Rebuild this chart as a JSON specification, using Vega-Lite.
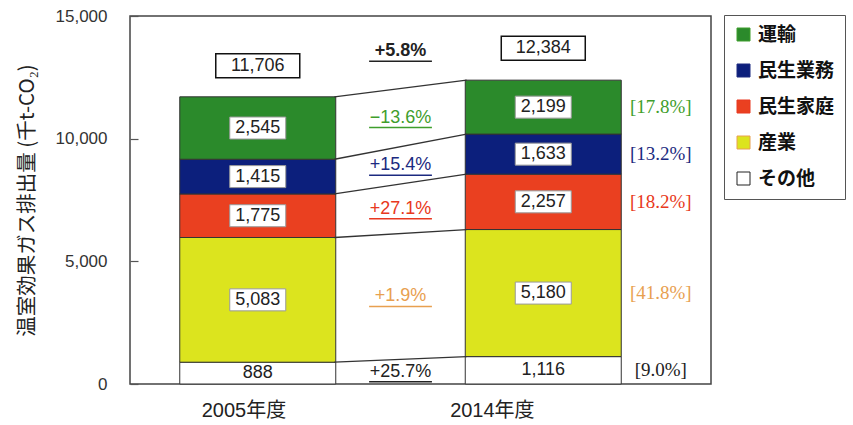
{
  "$schema": "https://vega.github.io/schema/vega-lite/v6.json",
  "width": 581,
  "height": 368,
  "autosize": {"type": "none"},
  "padding": {"left": 130, "top": 16, "right": 142, "bottom": 41},
  "background": "white",
  "config": {
    "view": {"stroke": "#444", "strokeWidth": 1.5},
    "font": "Liberation Sans, Noto Sans CJK JP",
    "axisY": {
      "labelFontSize": 17, "labelColor": "#333", "labelPadding": 31,
      "labelFont": "Liberation Sans",
      "labelExpr": "format(datum.value, ',')",
      "ticks": true, "tickSize": -8, "tickColor": "#555", "tickWidth": 1.2,
      "domain": false, "grid": false,
      "titleFontSize": 20.5, "titleFont": "Noto Sans CJK JP",
      "titleFontWeight": "normal", "titleColor": "#222", "titlePadding": 18
    },
    "axisX": {
      "ticks": false, "domain": false, "grid": false,
      "labelFontSize": 20, "labelColor": "#222", "labelPadding": 16,
      "labelFont": "Liberation Sans, Noto Sans CJK JP"
    }
  },
  "datasets": {
    "seg": [
      {"cat": "その他", "o": 1, "v05": 888, "v14": 1116, "chg": "+25.7%", "share": "[9.0%]"},
      {"cat": "産業", "o": 2, "v05": 5083, "v14": 5180, "chg": "+1.9%", "share": "[41.8%]"},
      {"cat": "民生家庭", "o": 3, "v05": 1775, "v14": 2257, "chg": "+27.1%", "share": "[18.2%]"},
      {"cat": "民生業務", "o": 4, "v05": 1415, "v14": 1633, "chg": "+15.4%", "share": "[13.2%]"},
      {"cat": "運輸", "o": 5, "v05": 2545, "v14": 2199, "chg": "−13.6%", "share": "[17.8%]"}
    ],
    "tot": [{"cat": "合計", "t05": 11706, "t14": 12384, "chg": "+5.8%"}]
  },
  "layer": [
    {
      "data": {"name": "seg"},
      "transform": [
        {"stack": "v05", "groupby": [], "sort": [{"field": "o"}], "as": ["a0", "a1"]},
        {"stack": "v14", "groupby": [], "sort": [{"field": "o"}], "as": ["b0", "b1"]},
        {"calculate": "(datum.a0+datum.a1)/2", "as": "m05"},
        {"calculate": "(datum.b0+datum.b1)/2", "as": "m14"},
        {"calculate": "(datum.m05+datum.m14)/2", "as": "mc"}
      ],
      "layer": [
        {
          "mark": {"type": "bar", "width": 156, "stroke": "#333", "strokeWidth": 1},
          "encoding": {
            "x": {
              "datum": 0, "type": "quantitative",
              "scale": {"domain": [-0.86, 3.14], "nice": false, "zero": false},
              "axis": {
                "values": [-0.1, 1.64],
                "labelExpr": "datum.value < 1 ? '2005年度' : '2014年度'",
                "title": null
              }
            },
            "y": {
              "field": "a0", "type": "quantitative",
              "scale": {"domain": [0, 15000], "nice": false},
              "axis": {
                "values": [0, 5000, 10000, 15000],
                "title": "温室効果ガス排出量 (千t-CO₂)"
              }
            },
            "y2": {"field": "a1"},
            "fill": {
              "field": "cat", "type": "nominal",
              "scale": {
                "domain": ["運輸", "民生業務", "民生家庭", "産業", "その他"],
                "range": ["#2b8a2b", "#0c1f7c", "#ea4020", "#dce41e", "#ffffff"]
              },
              "legend": {
                "title": null, "orient": "none", "legendX": 594, "legendY": -1,
                "symbolType": "square", "symbolSize": 169,
                "symbolStrokeColor": "#333", "symbolStrokeWidth": 1,
                "labelFontSize": 19, "labelFont": "Noto Sans CJK JP",
                "labelFontWeight": "bold", "labelColor": "#111",
                "rowPadding": 16, "padding": 10, "labelOffset": 5,
                "strokeColor": "#555", "fillColor": "white"
              }
            }
          }
        },
        {
          "mark": {"type": "bar", "width": 156, "stroke": "#333", "strokeWidth": 1},
          "encoding": {
            "x": {"datum": 2, "type": "quantitative"},
            "y": {"field": "b0", "type": "quantitative"},
            "y2": {"field": "b1"},
            "fill": {"field": "cat", "type": "nominal"}
          }
        },
        {
          "mark": {"type": "rule", "stroke": "#333", "strokeWidth": 1.3},
          "encoding": {
            "x": {"datum": 0.537, "type": "quantitative"},
            "x2": {"datum": 1.463},
            "y": {"field": "a1", "type": "quantitative"},
            "y2": {"field": "b1"}
          }
        },
        {
          "transform": [{"filter": "datum.o > 1"}],
          "mark": {"type": "point", "shape": "M-1,-0.393H1V0.393H-1Z", "size": 3136, "filled": true, "fill": "white", "stroke": "#999", "strokeWidth": 1, "opacity": 1},
          "encoding": {
            "x": {"datum": 0, "type": "quantitative"},
            "y": {"field": "m05", "type": "quantitative"}
          }
        },
        {
          "transform": [{"filter": "datum.o > 1"}],
          "mark": {"type": "point", "shape": "M-1,-0.393H1V0.393H-1Z", "size": 3136, "filled": true, "fill": "white", "stroke": "#999", "strokeWidth": 1, "opacity": 1},
          "encoding": {
            "x": {"datum": 2, "type": "quantitative"},
            "y": {"field": "m14", "type": "quantitative"}
          }
        },
        {
          "mark": {"type": "text", "fontSize": 18, "color": "#222", "baseline": "middle", "align": "center", "font": "Liberation Sans"},
          "encoding": {
            "x": {"datum": 0, "type": "quantitative"},
            "y": {"field": "m05", "type": "quantitative"},
            "text": {"field": "v05", "type": "quantitative", "format": ","}
          }
        },
        {
          "mark": {"type": "text", "fontSize": 18, "color": "#222", "baseline": "middle", "align": "center", "font": "Liberation Sans"},
          "encoding": {
            "x": {"datum": 2, "type": "quantitative"},
            "y": {"field": "m14", "type": "quantitative"},
            "text": {"field": "v14", "type": "quantitative", "format": ","}
          }
        },
        {
          "mark": {"type": "text", "fontSize": 18, "baseline": "middle", "align": "center", "font": "Liberation Sans"},
          "encoding": {
            "x": {"datum": 1, "type": "quantitative"},
            "y": {"field": "mc", "type": "quantitative"},
            "text": {"field": "chg"},
            "color": {
              "field": "cat", "type": "nominal", "legend": null,
              "scale": {
                "domain": ["運輸", "民生業務", "民生家庭", "産業", "その他"],
                "range": ["#3f9e2c", "#1c2a80", "#e83820", "#e8a050", "#222222"]
              }
            }
          }
        },
        {
          "mark": {"type": "rule", "strokeWidth": 1.5, "yOffset": 10, "y2Offset": 10},
          "encoding": {
            "x": {"datum": 0.78, "type": "quantitative"},
            "x2": {"datum": 1.22},
            "y": {"field": "mc", "type": "quantitative"},
            "y2": {"field": "mc"},
            "color": {"field": "cat", "type": "nominal", "legend": null}
          }
        },
        {
          "mark": {"type": "text", "fontSize": 19, "baseline": "middle", "align": "center", "font": "Liberation Serif"},
          "encoding": {
            "x": {"datum": 2.823, "type": "quantitative"},
            "y": {"field": "m14", "type": "quantitative"},
            "text": {"field": "share"},
            "color": {"field": "cat", "type": "nominal", "legend": null}
          }
        }
      ]
    },
    {
      "data": {"name": "tot"},
      "layer": [
        {
          "mark": {"type": "point", "shape": "M-1,-0.286H1V0.286H-1Z", "size": 7056, "filled": true, "fill": "white", "stroke": "#111", "strokeWidth": 1.5, "opacity": 1, "yOffset": -31},
          "encoding": {
            "x": {"datum": 0, "type": "quantitative"},
            "y": {"field": "t05", "type": "quantitative"}
          }
        },
        {
          "mark": {"type": "point", "shape": "M-1,-0.286H1V0.286H-1Z", "size": 7056, "filled": true, "fill": "white", "stroke": "#111", "strokeWidth": 1.5, "opacity": 1, "yOffset": -32},
          "encoding": {
            "x": {"datum": 2, "type": "quantitative"},
            "y": {"field": "t14", "type": "quantitative"}
          }
        },
        {
          "mark": {"type": "text", "fontSize": 18, "color": "#222", "baseline": "middle", "align": "center", "font": "Liberation Sans", "yOffset": -31},
          "encoding": {
            "x": {"datum": 0, "type": "quantitative"},
            "y": {"field": "t05", "type": "quantitative"},
            "text": {"field": "t05", "type": "quantitative", "format": ","}
          }
        },
        {
          "mark": {"type": "text", "fontSize": 18, "color": "#222", "baseline": "middle", "align": "center", "font": "Liberation Sans", "yOffset": -32},
          "encoding": {
            "x": {"datum": 2, "type": "quantitative"},
            "y": {"field": "t14", "type": "quantitative"},
            "text": {"field": "t14", "type": "quantitative", "format": ","}
          }
        },
        {
          "mark": {"type": "text", "fontSize": 18, "color": "#222", "baseline": "middle", "align": "center", "font": "Liberation Sans", "fontWeight": "bold", "yOffset": -29},
          "encoding": {
            "x": {"datum": 1, "type": "quantitative"},
            "y": {"field": "t14", "type": "quantitative"},
            "text": {"field": "chg"}
          }
        },
        {
          "mark": {"type": "rule", "stroke": "#222", "strokeWidth": 1.5, "yOffset": -19, "y2Offset": -19},
          "encoding": {
            "x": {"datum": 0.78, "type": "quantitative"},
            "x2": {"datum": 1.22},
            "y": {"field": "t14", "type": "quantitative"},
            "y2": {"field": "t14"}
          }
        }
      ]
    }
  ]
}
